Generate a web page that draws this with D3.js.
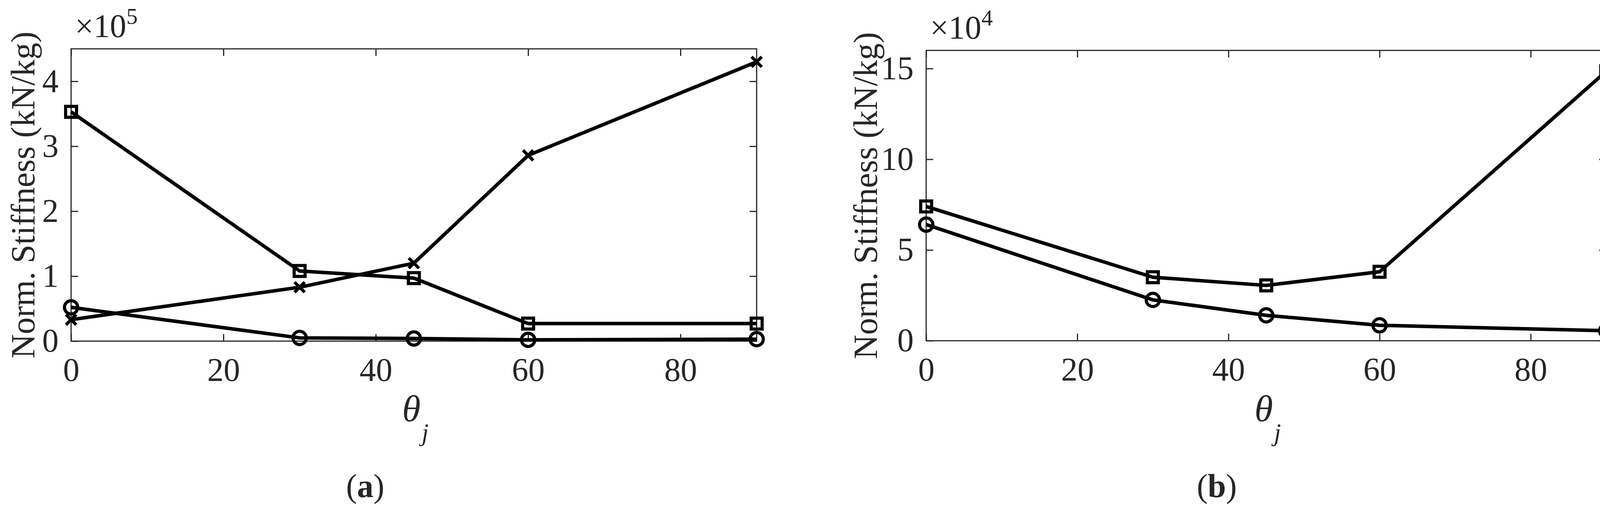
<!DOCTYPE html>
<html>
<head>
<meta charset="utf-8">
<script src="https://cdn.jsdelivr.net/npm/d3@7"></script>
<style>
  html, body { margin: 0; padding: 0; background: #fff; overflow: hidden; }
  svg { display: block; }
  text { font-family: "Liberation Serif", "DejaVu Serif", serif; fill: #262626; }
</style>
</head>
<body>
<svg id="chart" width="4154" height="1318"></svg>
<script>
// Shared x positions (theta_j, degrees).
var thetas = [0, 30, 45, 60, 90];
var xTicks = [0, 20, 40, 60, 80];

// Panel (a), values in 1e5 kN/kg.
var aSquare = [3.53, 1.08, 0.97, 0.27, 0.27];
var aCross = [0.33, 0.83, 1.20, 2.86, 4.30];
var aCircle = [0.52, 0.05, 0.04, 0.02, 0.03];
var aTicks = [0, 1, 2, 3, 4];

// Panel (b), values in 1e4 kN/kg.
var bSquare = [7.40, 3.50, 3.05, 3.80, 14.85];
var bCircle = [6.40, 2.25, 1.40, 0.85, 0.55];
var bTicks = [0, 5, 10, 15];

var svg = d3.select('#chart');


/**
 * Draws one panel: box, ticks, labels and the series.
 */
function drawPanel(opt) {
  var x = d3.scaleLinear().domain([0, 90]).range([opt.left, opt.right]);
  var y = d3.scaleLinear().domain([0, opt.ymax]).range([opt.bottom, opt.top]);
  var g = svg.append('g');

  // Box.
  g.append('rect')
    .attr('x', opt.left).attr('y', opt.top)
    .attr('width', opt.right - opt.left).attr('height', opt.bottom - opt.top)
    .attr('fill', 'none').attr('stroke', '#262626').attr('stroke-width', 3);

  // Axes with inward ticks (matlab style).
  var xAxis = d3.axisBottom(x).tickValues(xTicks).tickFormat(d3.format('d'))
    .tickSizeInner(-18).tickSizeOuter(0).tickPadding(42);
  g.append('g').attr('transform', 'translate(0,' + opt.bottom + ')').call(xAxis);
  var xAxisTop = d3.axisTop(x).tickValues(xTicks).tickSizeInner(-18).tickSizeOuter(0).tickFormat('');
  g.append('g').attr('transform', 'translate(0,' + opt.top + ')').call(xAxisTop);
  var yAxis = d3.axisLeft(y).tickValues(opt.yTicks).tickFormat(d3.format('d'))
    .tickSizeInner(-18).tickSizeOuter(0).tickPadding(32);
  g.append('g').attr('transform', 'translate(' + opt.left + ',0)').call(yAxis);
  var yAxisR = d3.axisRight(y).tickValues(opt.yTicks).tickSizeInner(-18).tickSizeOuter(0).tickFormat('');
  g.append('g').attr('transform', 'translate(' + opt.right + ',0)').call(yAxisR);
  g.selectAll('.domain').remove();
  g.selectAll('.tick line').attr('stroke', '#262626').attr('stroke-width', 3);
  g.selectAll('.tick text').style('font-size', '84px').style('font-family', '"Liberation Serif", serif').attr('fill', '#262626');

  // Exponent label.
  var ex = g.append('text').attr('x', opt.left + 10).attr('y', opt.top - 30).style('font-size', '84px');
  ex.append('tspan').text('\u00d710');
  ex.append('tspan').attr('dy', -34).style('font-size', '58px').text(opt.exp);

  // Axis labels.
  g.append('text')
    .attr('transform', 'translate(' + opt.ylabelX + ',' + (opt.top + opt.bottom) / 2 + ') rotate(-90)')
    .attr('text-anchor', 'middle').style('font-size', '86px')
    .text('Norm. Stiffness (kN/kg)');
  var cx = (opt.left + opt.right) / 2;
  g.append('text').attr('x', cx - 30).attr('y', 1078).style('font-size', '96px').style('font-style', 'italic').text('\u03b8');
  g.append('text').attr('x', cx + 20).attr('y', 1128).style('font-size', '64px').style('font-style', 'italic').text('j');
  var cap = g.append('text').attr('x', opt.capX).attr('y', 1272).attr('text-anchor', 'middle').style('font-size', '84px');
  cap.append('tspan').text('(');
  cap.append('tspan').style('font-weight', 'bold').text(opt.cap);
  cap.append('tspan').text(')');

  // Series.
  var line = d3.line().x(function(d, i) { return x(thetas[i]); }).y(function(d) { return y(d); });
  opt.series.forEach(function(s) {
    g.append('path').datum(s.values).attr('d', line)
      .attr('fill', 'none').attr('stroke', '#000').attr('stroke-width', 9).attr('stroke-linejoin', 'round');
    var pts = g.selectAll(null).data(s.values).enter();
    if (s.marker === 'square') {
      pts.append('rect')
        .attr('x', function(d, i) { return x(thetas[i]) - 14; })
        .attr('y', function(d) { return y(d) - 14; })
        .attr('width', 28).attr('height', 28)
        .attr('fill', 'none').attr('stroke', '#000').attr('stroke-width', 8);
    } else if (s.marker === 'circle') {
      pts.append('circle')
        .attr('cx', function(d, i) { return x(thetas[i]); })
        .attr('cy', function(d) { return y(d); })
        .attr('r', 17).attr('fill', 'none').attr('stroke', '#000').attr('stroke-width', 8);
    } else {
      pts.append('path')
        .attr('d', function(d, i) {
          var px = x(thetas[i]), py = y(d), r = 13;
          return 'M' + (px - r) + ',' + (py - r) + 'L' + (px + r) + ',' + (py + r) +
            'M' + (px - r) + ',' + (py + r) + 'L' + (px + r) + ',' + (py - r);
        })
        .attr('stroke', '#000').attr('stroke-width', 8);
    }
  });
}

drawPanel({
  left: 182, right: 1937, top: 125, bottom: 873, ymax: 4.5, yTicks: aTicks, exp: '5',
  ylabelX: 88, capX: 935, cap: 'a',
  series: [
    {values: aSquare, marker: 'square'},
    {values: aCross, marker: 'cross'},
    {values: aCircle, marker: 'circle'}
  ]
});

drawPanel({
  left: 2371, right: 4112, top: 129, bottom: 872, ymax: 16, yTicks: bTicks, exp: '4',
  ylabelX: 2245, capX: 3115, cap: 'b',
  series: [
    {values: bSquare, marker: 'square'},
    {values: bCircle, marker: 'circle'}
  ]
});
</script>
</body>
</html>
